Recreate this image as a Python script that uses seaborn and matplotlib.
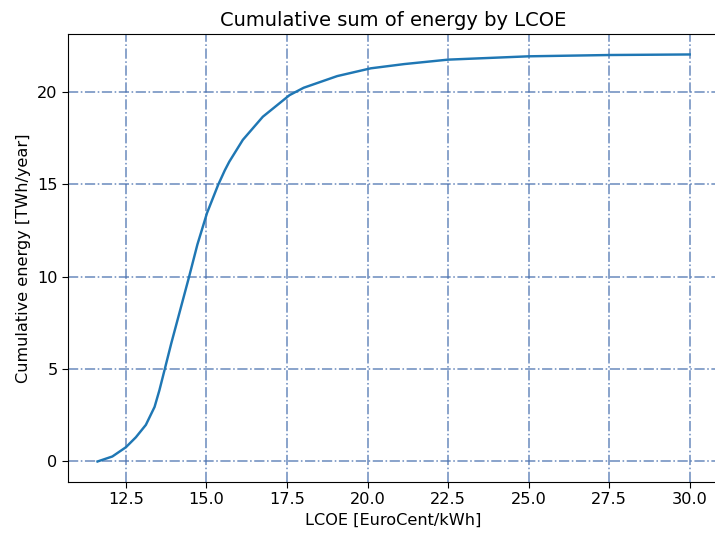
import seaborn as sns
import matplotlib.pyplot as plt
import pandas as pd

# values
lcoe = [11.62, 12.08, 12.5, 12.81, 13.12, 13.39, 13.54, 13.70, 13.91, 14.01,
        14.46, 14.72, 15.02, 15.36, 15.57, 15.71, 16.13, 16.75, 17.58, 18.02,
        19.06, 20.1, 21.14, 22.5, 25.0, 27.5, 30.0]
energy = [0.0, 0.27, 0.77, 1.31, 1.98, 2.95, 3.85, 4.95, 6.4, 7.05,
          9.98, 11.74, 13.45, 14.95, 15.75, 16.22, 17.4, 18.65, 19.82, 20.22,
          20.85, 21.27, 21.5, 21.74, 21.92, 21.99, 22.02]

df = pd.DataFrame({'LCOE': lcoe, 'Energy': energy})

fig, ax = plt.subplots(figsize=(7.15, 5.33), dpi=100)
sns.lineplot(data=df, x='LCOE', y='Energy', color='#1f77b4', linewidth=1.75, ax=ax)

ax.grid(color='#4C72B0', linestyle='-.', linewidth=1.15, alpha=0.8)
ax.tick_params(labelsize=11.6, length=4)
ax.set_xlabel('LCOE [EuroCent/kWh]', fontsize=11.6)
ax.set_ylabel('Cumulative energy [TWh/year]', fontsize=11.6)
ax.set_title('Cumulative sum of energy by LCOE', fontsize=14)

# the reference is cropped just past the right spine
plt.subplots_adjust(left=0.095, right=1.006, top=0.936, bottom=0.096)
plt.savefig('out.png')
